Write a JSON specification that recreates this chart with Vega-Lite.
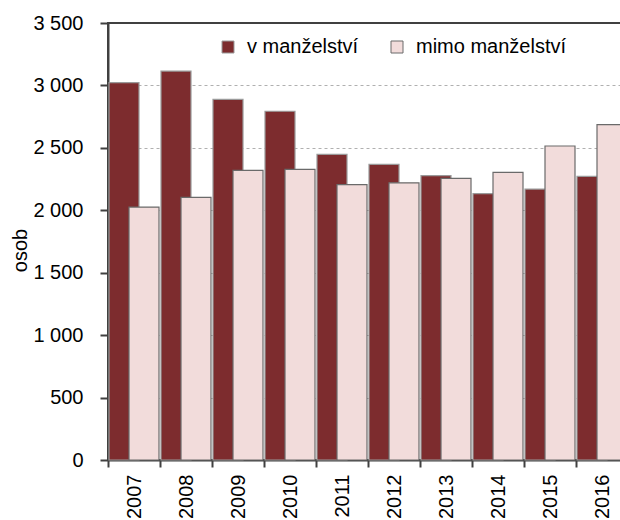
{
  "$schema": "https://vega.github.io/schema/vega-lite/v6.json",
  "width": 520,
  "height": 437,
  "autosize": "none",
  "padding": {"left": 108, "top": 23, "right": 0, "bottom": 60},
  "background": "white",
  "data": {
    "values": [
      {"rok": "2007", "skupina": "v manželství", "osob": 3022},
      {"rok": "2008", "skupina": "v manželství", "osob": 3115},
      {"rok": "2009", "skupina": "v manželství", "osob": 2889},
      {"rok": "2010", "skupina": "v manželství", "osob": 2793},
      {"rok": "2011", "skupina": "v manželství", "osob": 2448},
      {"rok": "2012", "skupina": "v manželství", "osob": 2368},
      {"rok": "2013", "skupina": "v manželství", "osob": 2277},
      {"rok": "2014", "skupina": "v manželství", "osob": 2133},
      {"rok": "2015", "skupina": "v manželství", "osob": 2170},
      {"rok": "2016", "skupina": "v manželství", "osob": 2272},
      {"rok": "2007", "skupina": "mimo manželství", "osob": 2026},
      {"rok": "2008", "skupina": "mimo manželství", "osob": 2104},
      {"rok": "2009", "skupina": "mimo manželství", "osob": 2320},
      {"rok": "2010", "skupina": "mimo manželství", "osob": 2328},
      {"rok": "2011", "skupina": "mimo manželství", "osob": 2205},
      {"rok": "2012", "skupina": "mimo manželství", "osob": 2220},
      {"rok": "2013", "skupina": "mimo manželství", "osob": 2256},
      {"rok": "2014", "skupina": "mimo manželství", "osob": 2304},
      {"rok": "2015", "skupina": "mimo manželství", "osob": 2515},
      {"rok": "2016", "skupina": "mimo manželství", "osob": 2686}
    ]
  },
  "encoding": {
    "x": {
      "field": "rok",
      "type": "nominal",
      "scale": {"paddingInner": 0, "paddingOuter": 0},
      "axis": {
        "title": null,
        "labelAngle": -90,
        "labelFontSize": 20,
        "labelColor": "black",
        "labelPadding": 7,
        "tickBand": "extent",
        "tickSize": 7,
        "tickColor": "#404040",
        "tickWidth": 2,
        "domainColor": "#404040",
        "domainWidth": 2
      }
    },
    "y": {
      "field": "osob",
      "type": "quantitative",
      "scale": {"domain": [0, 3500], "nice": false},
      "axis": {
        "title": "osob",
        "titleFontSize": 20,
        "titleFontWeight": "normal",
        "titleColor": "black",
        "titleX": -78,
        "titleY": 227,
        "values": [0, 500, 1000, 1500, 2000, 2500, 3000, 3500],
        "labelExpr": "replace(format(datum.value, ','), ',', ' ')",
        "labelFontSize": 20,
        "labelColor": "black",
        "labelPadding": 17,
        "tickSize": 8,
        "tickColor": "#404040",
        "tickWidth": 2,
        "domainColor": "#404040",
        "domainWidth": 2,
        "grid": true,
        "gridDash": [3, 3],
        "gridColor": "#b0b0b0",
        "gridWidth": 1,
        "gridOpacity": {"condition": {"test": "datum.value === 3500", "value": 0}, "value": 1}
      }
    },
    "color": {
      "field": "skupina",
      "type": "nominal",
      "scale": {"domain": ["v manželství", "mimo manželství"], "range": ["#7D2C2E", "#F2DCDB"]},
      "legend": {
        "title": null,
        "orient": "none",
        "legendX": 110,
        "legendY": 14,
        "direction": "horizontal",
        "symbolType": "square",
        "symbolSize": 144,
        "symbolStrokeWidth": 1,
        "labelFontSize": 20,
        "labelColor": "black",
        "columnPadding": 28,
        "labelOffset": 9
      }
    },
    "stroke": {
      "field": "skupina",
      "type": "nominal",
      "scale": {"domain": ["v manželství", "mimo manželství"], "range": ["#9a9a9a", "#6a6a6a"]},
      "legend": null
    }
  },
  "layer": [
    {
      "transform": [{"filter": "datum.skupina === 'v manželství'"}],
      "mark": {"type": "bar", "width": 30, "xOffset": -10, "strokeWidth": 1.2}
    },
    {
      "transform": [{"filter": "datum.skupina === 'mimo manželství'"}],
      "mark": {"type": "bar", "width": 30, "xOffset": 10, "strokeWidth": 1.2}
    }
  ],
  "config": {
    "font": "Liberation Sans",
    "view": {"stroke": "#404040", "strokeWidth": 2}
  }
}
